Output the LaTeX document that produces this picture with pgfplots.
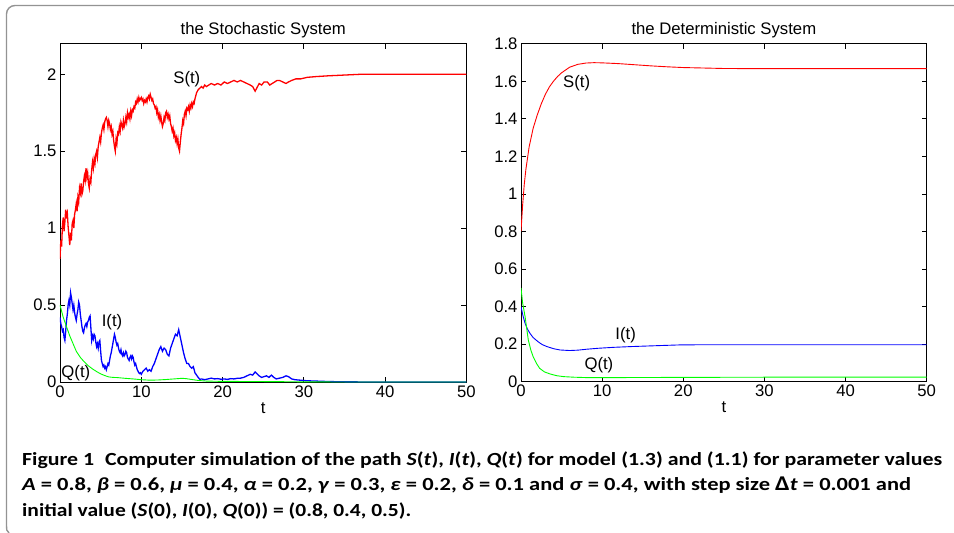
\documentclass[border=0pt]{standalone}
\usepackage{pgfplots}
\pgfplotsset{compat=1.18}
\usepackage{graphicx}
\usepackage{fontspec}
\setmainfont{Liberation Sans}
\newfontfamily\capfont{Carlito}
\newlength\caplen
\newcommand\capline[2]{\settowidth{\caplen}{#2}\pgfmathsetmacro\capsx{#1/\caplen}\scalebox{\capsx}[1]{#2}}

\pgfplotstableread{
t v
0.0 0.80
0.1 0.92
0.2 0.88
0.3 1.02
0.4 1.07
0.5 0.98
0.6 1.04
0.7 1.12
0.8 1.08
0.9 1.10
1.0 1.01
1.1 0.95
1.2 0.89
1.3 0.97
1.4 0.92
1.5 1.03
1.6 1.05
1.7 1.00
1.8 1.09
1.9 1.12
2.0 1.16
2.1 1.11
2.2 1.20
2.3 1.17
2.4 1.26
2.5 1.23
2.6 1.29
2.7 1.22
2.8 1.24
2.9 1.30
3.0 1.34
3.1 1.31
3.2 1.39
3.3 1.33
3.4 1.36
3.5 1.29
3.6 1.26
3.7 1.32
3.8 1.30
3.9 1.38
4.0 1.43
4.1 1.39
4.2 1.45
4.3 1.42
4.4 1.48
4.5 1.50
4.6 1.46
4.7 1.53
4.8 1.56
4.9 1.59
5.0 1.56
5.1 1.62
5.2 1.65
5.3 1.67
5.4 1.64
5.5 1.69
5.6 1.71
5.7 1.72
5.8 1.70
5.9 1.66
6.0 1.70
6.1 1.68
6.2 1.64
6.3 1.66
6.4 1.61
6.5 1.63
6.6 1.57
6.7 1.53
6.8 1.50
6.9 1.58
7.0 1.55
7.1 1.62
7.2 1.61
7.3 1.66
7.4 1.63
7.5 1.69
7.6 1.67
7.7 1.65
7.8 1.70
7.9 1.66
8.0 1.68
8.1 1.72
8.2 1.69
8.3 1.75
8.4 1.72
8.5 1.74
8.6 1.71
8.7 1.76
8.8 1.73
8.9 1.77
9.0 1.76
9.1 1.79
9.2 1.78
9.3 1.82
9.4 1.81
9.5 1.84
9.6 1.82
9.7 1.85
9.8 1.83
9.9 1.84
10.0 1.85
10.1 1.83
10.2 1.84
10.3 1.81
10.4 1.83
10.5 1.82
10.6 1.84
10.7 1.82
10.8 1.85
10.9 1.86
11.0 1.84
11.1 1.87
11.2 1.85
11.3 1.83
11.4 1.84
11.5 1.81
11.6 1.80
11.7 1.78
11.8 1.79
11.9 1.75
12.0 1.77
12.1 1.72
12.2 1.74
12.3 1.70
12.4 1.73
12.5 1.69
12.6 1.66
12.7 1.68
12.8 1.72
12.9 1.70
13.0 1.75
13.1 1.76
13.2 1.72
13.3 1.74
13.4 1.71
13.5 1.73
13.6 1.68
13.7 1.66
13.8 1.63
13.9 1.65
14.0 1.60
14.1 1.62
14.2 1.57
14.3 1.59
14.4 1.55
14.5 1.58
14.6 1.52
14.7 1.50
14.8 1.56
14.9 1.61
15.0 1.65
15.1 1.70
15.2 1.68
15.3 1.74
15.4 1.76
15.5 1.73
15.6 1.78
15.7 1.77
15.8 1.79
15.9 1.76
16.0 1.80
16.1 1.78
16.2 1.81
16.3 1.79
16.4 1.82
16.5 1.81
16.6 1.84
16.7 1.86
16.8 1.88
16.9 1.89
17.0 1.90
17.2 1.91
17.4 1.92
17.6 1.91
17.8 1.93
18.0 1.92
18.3 1.93
18.6 1.94
19.0 1.93
19.4 1.94
19.8 1.93
20.2 1.95
20.6 1.94
21.0 1.95
21.4 1.96
21.8 1.95
22.2 1.96
22.6 1.95
23.0 1.94
23.4 1.93
23.7 1.92
24.0 1.89
24.2 1.91
24.5 1.94
24.8 1.93
25.1 1.95
25.5 1.95
25.8 1.93
26.1 1.94
26.4 1.95
26.7 1.96
27.0 1.96
27.4 1.95
27.8 1.94
28.1 1.95
28.5 1.96
29.0 1.97
29.6 1.97
30.4 1.98
31.5 1.985
33.0 1.99
35.0 1.995
37.0 2.0
50 2.0
}\stochS

\pgfplotstableread{
t v
0.0 0.42
0.1 0.38
0.2 0.36
0.3 0.33
0.4 0.34
0.5 0.29
0.6 0.27
0.7 0.33
0.8 0.40
0.9 0.44
1.0 0.50
1.1 0.53
1.2 0.50
1.3 0.58
1.4 0.55
1.5 0.51
1.6 0.47
1.7 0.50
1.8 0.45
1.9 0.42
2.0 0.40
2.1 0.44
2.2 0.47
2.3 0.52
2.4 0.50
2.5 0.44
2.6 0.40
2.7 0.36
2.8 0.33
2.9 0.32
3.0 0.35
3.1 0.37
3.2 0.38
3.3 0.36
3.4 0.39
3.5 0.40
3.6 0.42
3.7 0.43
3.8 0.35
3.9 0.27
4.0 0.30
4.1 0.28
4.2 0.31
4.3 0.30
4.4 0.26
4.5 0.23
4.6 0.25
4.7 0.22
4.8 0.26
4.9 0.27
5.0 0.20
5.1 0.14
5.2 0.12
5.3 0.10
5.4 0.11
5.5 0.09
5.6 0.10
5.7 0.08
5.8 0.10
5.9 0.12
6.0 0.11
6.1 0.14
6.2 0.17
6.3 0.19
6.4 0.22
6.5 0.25
6.6 0.28
6.7 0.31
6.8 0.29
6.9 0.26
7.0 0.24
7.1 0.25
7.2 0.22
7.3 0.20
7.4 0.19
7.5 0.21
7.6 0.18
7.7 0.17
7.8 0.19
7.9 0.17
8.0 0.18
8.1 0.20
8.2 0.19
8.3 0.16
8.4 0.15
8.5 0.14
8.6 0.16
8.7 0.17
8.8 0.15
8.9 0.17
9.0 0.16
9.1 0.13
9.2 0.11
9.3 0.12
9.4 0.10
9.5 0.08
9.6 0.07
9.7 0.06
9.8 0.055
9.9 0.06
10.0 0.05
10.2 0.07
10.4 0.08
10.6 0.09
10.8 0.07
11.0 0.08
11.2 0.07
11.4 0.10
11.6 0.12
11.8 0.15
12.0 0.18
12.2 0.21
12.4 0.23
12.6 0.20
12.8 0.22
13.0 0.21
13.2 0.18
13.4 0.17
13.6 0.22
13.8 0.25
14.0 0.28
14.2 0.31
14.4 0.30
14.6 0.34
14.8 0.29
15.0 0.24
15.2 0.19
15.4 0.15
15.6 0.12
15.8 0.12
16.0 0.10
16.2 0.09
16.4 0.10
16.6 0.06
16.8 0.045
17.0 0.03
17.2 0.017
17.4 0.02
17.8 0.015
18.2 0.02
18.6 0.025
19.0 0.02
19.4 0.022
19.8 0.018
20.2 0.02
20.6 0.017
21.0 0.022
21.4 0.02
21.8 0.024
22.2 0.025
22.6 0.03
23.0 0.04
23.4 0.05
23.7 0.045
24.0 0.065
24.2 0.055
24.5 0.04
24.8 0.03
25.1 0.035
25.4 0.04
25.7 0.03
26.0 0.045
26.3 0.03
26.6 0.02
27.0 0.025
27.4 0.03
27.8 0.04
28.1 0.035
28.5 0.02
28.9 0.015
29.5 0.012
30.4 0.008
31.5 0.006
33 0.003
35 0.001
40 0
50 0
}\stochI

\pgfplotstableread{
t v
0 0.50
0.4 0.42
0.8 0.36
1.2 0.30
1.6 0.25
2.0 0.20
2.5 0.16
3.0 0.13
3.5 0.105
4.0 0.085
4.5 0.068
5.0 0.053
5.5 0.042
6.0 0.033
6.5 0.030
7.0 0.029
8.0 0.024
9.0 0.020
10.0 0.015
11.0 0.012
12.0 0.013
13.0 0.016
14.0 0.020
15.0 0.024
15.5 0.022
16.0 0.018
17.0 0.010
18.0 0.006
20 0.004
25 0.003
30 0.001
35 0.0
50 0
}\stochQ

\pgfplotstableread{
t v
0 0.80
0.1 0.87
0.2 0.94
0.4 1.05
0.6 1.13
0.8 1.19
1.0 1.25
1.5 1.35
2.0 1.42
2.5 1.48
3.0 1.53
3.5 1.57
4.0 1.60
4.5 1.625
5.0 1.645
6.0 1.675
7.0 1.690
8.0 1.697
9.0 1.699
10.0 1.698
12.0 1.694
14.0 1.688
16.0 1.682
18.0 1.677
20.0 1.673
25.0 1.668
30.0 1.667
50.0 1.667
}\detS

\pgfplotstableread{
t v
0 0.40
0.25 0.35
0.5 0.311
0.8 0.28
1.1 0.258
1.5 0.235
2.1 0.213
2.6 0.198
3.2 0.187
4.0 0.176
4.8 0.169
6.0 0.166
7.0 0.168
8.1 0.173
9.5 0.178
11.4 0.183
13.5 0.187
15.5 0.190
17.5 0.193
19.6 0.196
23 0.197
30 0.197
50 0.197
}\detI

\pgfplotstableread{
t v
0 0.50
0.2 0.42
0.5 0.347
0.9 0.222
1.2 0.170
1.5 0.133
1.9 0.098
2.3 0.071
2.9 0.052
3.6 0.041
4.4 0.032
5.25 0.027
6.5 0.024
8.0 0.022
9.4 0.022
12 0.022
20 0.023
30 0.024
50 0.024
}\detQ

\def\lblfont{\fontsize{16.7}{18}\selectfont}
\pgfplotsset{myax/.style={
  scale only axis, xmin=0, xmax=50, ymin=0,
  xtick={0,10,20,30,40,50},
  tick align=inside, tick pos=both, major tick length=5pt,
  axis line style={line width=0.9pt, black},
  every tick/.style={black, line width=0.8pt},
  tick label style={font=\lblfont},
  label style={font=\lblfont},
  title style={font=\lblfont, yshift=-4pt},
  /pgf/number format/assume math mode=true,
  xlabel={t}, xlabel style={yshift=2pt},
  every axis plot/.append style={line width=0.9pt, mark=none},
  enlargelimits=false, clip=true,
}}

\begin{document}
\begin{tikzpicture}
\useasboundingbox (0pt,0pt) rectangle (954pt,-533pt);
\draw[gray!85, line width=1.4pt] (954pt,-5.5pt) -- (15pt,-5.5pt)
  arc[start angle=90,end angle=180,radius=8.5pt] -- (6.5pt,-526pt)
  to[out=-90,in=150] (9pt,-533pt);

\begin{axis}[myax, at={(60pt,-382pt)}, anchor=south west,
  width=406.5pt, height=338.5pt, ymax=2.2, ytick={0,0.5,1,1.5,2},
  title={the Stochastic System}]
\addplot[red, line width=1.3pt] table[x=t,y=v] {\stochS};
\addplot[blue, line width=1.3pt] table[x=t,y=v] {\stochI};
\addplot[green] table[x=t,y=v] {\stochQ};
\node[font=\lblfont] at (axis cs:15.6,1.97) {S(t)};
\node[font=\lblfont] at (axis cs:6.4,0.39) {I(t)};
\node[font=\lblfont] at (axis cs:1.95,0.058) {Q(t)};
\end{axis}

\begin{axis}[myax, at={(521pt,-381.7pt)}, anchor=south west,
  width=405.7pt, height=338pt, ymax=1.8,
  ytick={0,0.2,0.4,0.6,0.8,1,1.2,1.4,1.6,1.8},
  title={the Deterministic System}]
\addplot[red] table[x=t,y=v] {\detS};
\addplot[blue] table[x=t,y=v] {\detI};
\addplot[green] table[x=t,y=v] {\detQ};
\node[font=\lblfont] at (axis cs:6.86,1.59) {S(t)};
\node[font=\lblfont] at (axis cs:12.9,0.249) {I(t)};
\node[font=\lblfont] at (axis cs:9.6,0.089) {Q(t)};
\end{axis}

\begin{scope}[every node/.style={anchor=base west, inner sep=0pt, font=\capfont\bfseries\fontsize{18.5}{20}\selectfont}]
\node at (22pt,-465pt) {\capline{920}{Figure 1\hspace{0.5em}Computer simulation of the path \textit{S}(\textit{t}), \textit{I}(\textit{t}), \textit{Q}(\textit{t}) for model (1.3) and (1.1) for parameter values}};
\node at (22pt,-490.5pt) {\capline{889}{\textit{A} = 0.8, \textit{β} = 0.6, \textit{μ} = 0.4, \textit{α} = 0.2, \textit{γ} = 0.3, \textit{ε} = 0.2, \textit{δ} = 0.1 and \textit{σ} = 0.4, with step size {\fontsize{21}{20}\selectfont Δ}\textit{t} = 0.001 and}};
\node at (22pt,-516pt) {\capline{389}{initial value (\textit{S}(0), \textit{I}(0), \textit{Q}(0)) = (0.8, 0.4, 0.5).}};
\end{scope}
\end{tikzpicture}
\end{document}
